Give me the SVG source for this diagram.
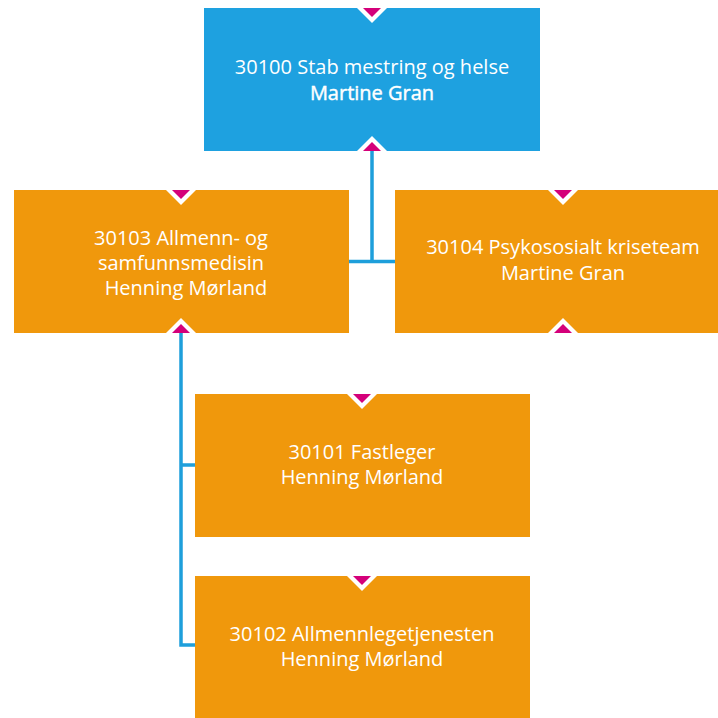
<svg xmlns="http://www.w3.org/2000/svg" width="718" height="718" viewBox="0 0 718 718">
<style>
.blue{fill:#1ea1e0;}
.orange{fill:#f0980c;}
.edge{fill:none;stroke:#1e9fdb;stroke-width:3.5;}
.mw{fill:#ffffff;}
.mp{fill:#d4007a;}
text{font-family:"Open Sans","Noto Sans","DejaVu Sans",sans-serif;font-size:20px;fill:#ffffff;text-anchor:middle;}
.b{stroke:#ffffff;stroke-width:0.45;}
</style>
<rect width="718" height="718" fill="#ffffff"/>
<g id="connectors">
<path class="edge" d="M372,151 V261.5 M349,261.5 H395"/>
<path class="edge" d="M181,333 V645 H195 M181,465 H195"/>
</g>
<g id="n30100">
<rect class="blue" x="204" y="8" width="336" height="143"/>
<polygon class="mw" points="357,8 387,8 372,23"/>
<polygon class="mp" points="363,8 381,8 372,17"/>
<polygon class="mw" points="357,151 387,151 372,136"/>
<polygon class="mp" points="363,151 381,151 372,142"/>
<text x="372" y="74">30100 Stab mestring og helse</text>
<text class="b" x="372" y="100">Martine Gran</text>
</g>
<g id="n30103">
<rect class="orange" x="14" y="190" width="335" height="143"/>
<polygon class="mw" points="166,190 196,190 181,205"/>
<polygon class="mp" points="172,190 190,190 181,199"/>
<polygon class="mw" points="166,333 196,333 181,318"/>
<polygon class="mp" points="172,333 190,333 181,324"/>
<text x="181" y="245">30103 Allmenn- og</text>
<text x="181" y="270">samfunnsmedisin</text>
<text x="186" y="295">Henning Mørland</text>
</g>
<g id="n30104">
<rect class="orange" x="395" y="190" width="336" height="143"/>
<polygon class="mw" points="548,190 578,190 563,205"/>
<polygon class="mp" points="554,190 572,190 563,199"/>
<polygon class="mw" points="548,333 578,333 563,318"/>
<polygon class="mp" points="554,333 572,333 563,324"/>
<text x="563" y="254">30104 Psykososialt kriseteam</text>
<text x="563" y="280">Martine Gran</text>
</g>
<g id="n30101">
<rect class="orange" x="195" y="394" width="335" height="143"/>
<polygon class="mw" points="347,394 377,394 362,409"/>
<polygon class="mp" points="353,394 371,394 362,403"/>
<text x="362" y="459">30101 Fastleger</text>
<text x="362" y="484">Henning Mørland</text>
</g>
<g id="n30102">
<rect class="orange" x="195" y="576" width="335" height="143"/>
<polygon class="mw" points="347,576 377,576 362,591"/>
<polygon class="mp" points="353,576 371,576 362,585"/>
<text x="362" y="641">30102 Allmennlegetjenesten</text>
<text x="362" y="666">Henning Mørland</text>
</g>
</svg>
